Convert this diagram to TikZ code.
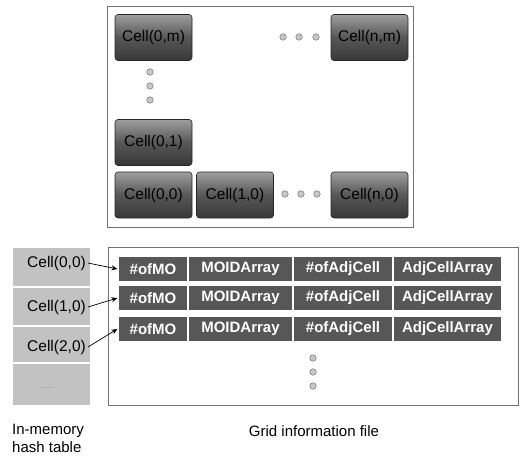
\documentclass[tikz,border=0pt]{standalone}
\usepackage{fontspec}
\setmainfont{Liberation Sans}
\usetikzlibrary{arrows.meta}
\begin{document}
\begin{tikzpicture}[x=1pt,y=-1pt,
  gridcell/.style={rounded corners=3pt, draw=black!85, line width=0.6pt,
    top color=black!38, bottom color=black!78, middle color=black!66,
    minimum width=77pt, minimum height=46pt, inner sep=0pt,
    font=\fontsize{15.5}{16}\selectfont, text=black},
  field/.style={fill=black!66, draw=white, line width=1.2pt,
    minimum height=26pt, inner sep=0pt, text=white,
    font=\bfseries\fontsize{15}{16}\selectfont},
  hashcell/.style={inner sep=2pt, font=\fontsize{15.5}{16}\selectfont},
  frame/.style={draw=black!55, line width=0.8pt},
  ellip/.style={circle, fill=black!22, draw=black!55, line width=0.5pt,
    minimum size=6.5pt, inner sep=0pt},
  link/.style={-{Stealth[length=6pt,width=5pt]}, line width=0.7pt},
  label/.style={font=\fontsize{15}{18}\selectfont, inner sep=0pt}]
\useasboundingbox (0,0) rectangle (522,458);

% ---- grid of cells ----
\draw[frame] (107,6) rectangle (413,227);
\node[gridcell] (c0m) at (153.5,37.5) {Cell(0,m)};
\node[gridcell] (cnm) at (369.5,37.5) {Cell(n,m)};
\node[gridcell] (c01) at (153.5,142.5) {Cell(0,1)};
\node[gridcell] (c00) at (153.5,195) {Cell(0,0)};
\node[gridcell] (c10) at (235,195) {Cell(1,0)};
\node[gridcell] (cn0) at (369.5,195) {Cell(n,0)};
\foreach \x in {283,299,316} \node[ellip] at (\x,37) {};
\foreach \x in {285,301,317} \node[ellip] at (\x,194) {};
\foreach \y in {72,86,100} \node[ellip] at (150,\y) {};

% ---- in-memory hash table ----
\fill[black!24] (13,248) rectangle (90,405);
\foreach \y in {287,326,363} \draw[white, line width=2pt] (13,\y) -- (90,\y);
\node[hashcell, anchor=east] (h0) at (88,263) {Cell(0,0)};
\node[hashcell, anchor=east] (h1) at (88,307) {Cell(1,0)};
\node[hashcell, anchor=east] (h2) at (88,347) {Cell(2,0)};
\node[font=\fontsize{9}{10}\selectfont, text=black!45] (hdots) at (48,388) {.....};

% ---- grid information file ----
\draw[frame] (108,247) rectangle (518,405);
\foreach \r/\y in {1/269,2/298,3/329}{
  \node[field, minimum width=70pt]  (r\r a) at (153,\y)   {\#ofMO};
  \node[field, minimum width=105pt] (r\r b) at (240.5,\y) {MOIDArray};
  \node[field, minimum width=100pt] (r\r c) at (343,\y)   {\#ofAdjCell};
  \node[field, minimum width=109pt] (r\r d) at (447.5,\y) {AdjCellArray};
}
\foreach \y in {358,372,386} \node[ellip] at (313,\y) {};

\draw[link] (h0.east) -- (r1a.west);
\draw[link] (h1.east) -- (r2a.west);
\draw[link] (h2.east) -- (r3a.west);

% ---- captions ----
\node[label, anchor=north west, align=left] (lhash) at (12,424) {In-memory\\hash table};
\node[label] (lfile) at (314,431) {Grid information file};
\end{tikzpicture}
\end{document}
